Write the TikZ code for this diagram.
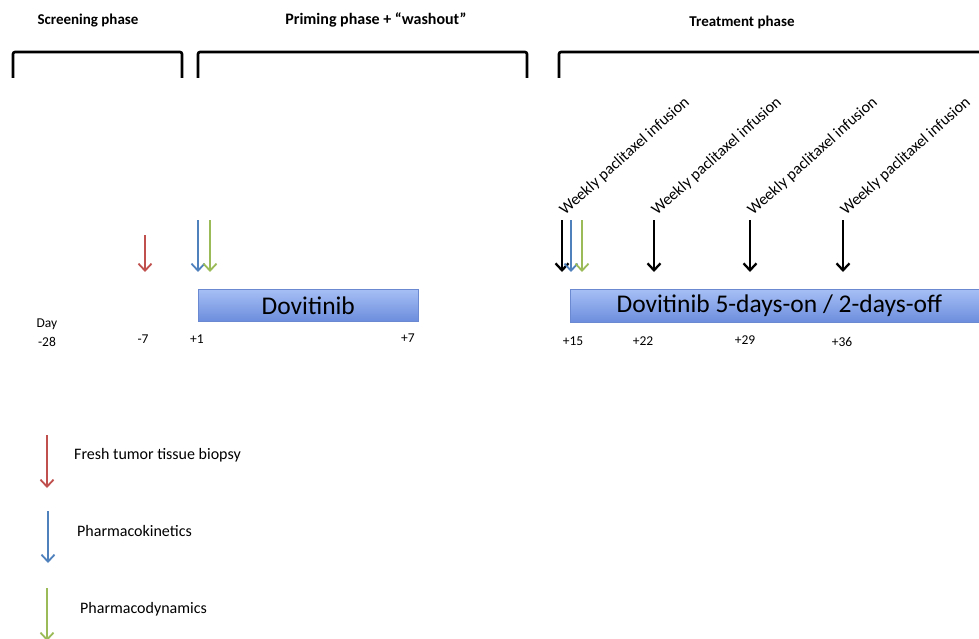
\documentclass[tikz,border=0pt]{standalone}
\usepackage{fontspec}
\setmainfont{Carlito}
\usetikzlibrary{arrows.meta}

\definecolor{biopsyred}{HTML}{C0504D}
\definecolor{pkblue}{HTML}{4F81BD}
\definecolor{pdgreen}{HTML}{9BBB59}
\definecolor{bartop}{HTML}{A6BFF5}
\definecolor{barbottom}{HTML}{6C8DDD}
\definecolor{barline}{HTML}{6A89D0}

\tikzset{
    phase bracket/.style={draw=black, line width=2.6pt, rounded corners=2pt},
    sample/.style={-{Straight Barb[length=7pt, width=13pt]}, line width=1.8pt},
    infusion/.style={sample, black, line width=2.3pt},
    drug bar/.style={draw=barline, top color=bartop, bottom color=barbottom, line width=0.6pt,
        inner sep=0pt, anchor=north west, font=\fontsize{25.5}{28}\selectfont},
    heading/.style={font=\bfseries\fontsize{15}{17}\selectfont, anchor=base},
    day/.style={font=\fontsize{13.5}{15}\selectfont, anchor=base, inner sep=0pt},
    infusion label/.style={font=\fontsize{16}{18}\selectfont, rotate=42, anchor=base west, inner sep=0pt},
    legend/.style={font=\fontsize{16}{18}\selectfont, anchor=base west, inner sep=0pt},
}
\newcommand{\samplearrow}[5]{% name, style, x, top y, tip y
    \coordinate (#1-top) at (#3,#4);
    \coordinate (#1-tip) at (#3,#5);
    \draw[#2] (#1-top) -- (#1-tip);}

\begin{document}
\begin{tikzpicture}[x=1pt, y=-1pt]
    \fill[white] (0,0) rectangle (979,639);
    \useasboundingbox (0,0) rectangle (979,639);

    % phases
    \node[heading] (screening) at (88,25) {Screening phase};
    \node[heading, font=\bfseries\fontsize{16}{18}\selectfont] (priming) at (376,25) {Priming phase + “washout”};
    \node[heading] (treatment) at (742,27) {Treatment phase};
    \draw[phase bracket] (13,78) -- (13,52) -- (182,52) -- (182,78);
    \draw[phase bracket] (198,78) -- (198,52) -- (527,52) -- (527,78);
    \draw[phase bracket] (559,78) -- (559,52) -- (995,52);

    % screening and priming samples
    \samplearrow{biopsy}{sample, biopsyred}{145}{235}{272}
    \samplearrow{pk1}{sample, pkblue}{198}{220}{272}
    \samplearrow{pd1}{sample, pdgreen}{210}{220}{272}

    % paclitaxel infusions
    \foreach \x/\n in {562/1, 654/2, 750/3, 843/4} {
        \samplearrow{inf\n}{infusion}{\x}{220}{272}
        \node[infusion label] (inflabel\n) at (\x+3,216) {Weekly paclitaxel infusion};
    }
    \samplearrow{pk2}{sample, pkblue}{571}{220}{272}
    \samplearrow{pd2}{sample, pdgreen}{582}{220}{272}

    % dovitinib dosing
    \node[drug bar, minimum width=220pt, minimum height=32pt] (priming bar) at (198,289) {Dovitinib};
    \node[drug bar, minimum width=418pt, minimum height=33pt] (treatment bar) at (570,289)
        {Dovitinib 5-days-on / 2-days-off};

    % days
    \node[day] (daylabel) at (47,327) {Day};
    \node[day] (d-28) at (47,346) {-28};
    \node[day] (d-7) at (143,343) {-7};
    \node[day] (d1) at (197,343) {+1};
    \node[day] (d7) at (408,342) {+7};
    \node[day] (d15) at (573,345) {+15};
    \node[day] (d22) at (643,345) {+22};
    \node[day] (d29) at (745,344) {+29};
    \node[day] (d36) at (842,346) {+36};

    % legend
    \samplearrow{key1}{sample, biopsyred}{47}{435}{488}
    \node[legend] (key1 text) at (74,459) {Fresh tumor tissue biopsy};
    \samplearrow{key2}{sample, pkblue}{48}{511}{563}
    \node[legend] (key2 text) at (77,536) {Pharmacokinetics};
    \samplearrow{key3}{sample, pdgreen}{47}{588}{641}
    \node[legend] (key3 text) at (80,613) {Pharmacodynamics};
\end{tikzpicture}
\end{document}
